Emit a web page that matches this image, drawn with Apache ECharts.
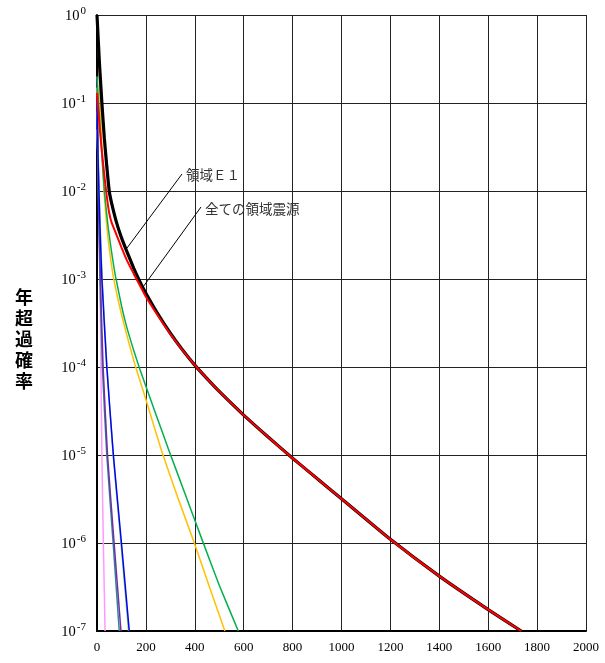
<!DOCTYPE html>
<html>
<head>
<meta charset="utf-8">
<script src="https://cdn.jsdelivr.net/npm/echarts@6/dist/echarts.min.js"></script>
<style>html,body{margin:0;padding:0;background:#fff}#c{width:605px;height:663px}</style>
</head>
<body>
<div id="c"></div>
<script>
// tick labels
const xTicks = [0,200,400,600,800,1000,1200,1400,1600,1800,2000];
const yExponents = [0,-1,-2,-3,-4,-5,-6,-7];

// series: x values and annual exceedance probabilities
const allSourcesX = [0, 10, 20, 30, 40, 50, 60, 80, 100, 121, 150, 175, 200, 250, 300, 350, 400, 450, 500, 600, 700, 800, 900, 1000, 1200, 1400, 1600, 1735];
const allSourcesY = [1, 0.282, 0.1, 0.0398, 0.0191, 0.01, 7.24e-3, 4.37e-3, 2.95e-3, 2.09e-3, 1.33e-3, 9.4e-4, 6.89e-4, 3.96e-4, 2.42e-4, 1.56e-4, 1.05e-4, 7.38e-5, 5.28e-5, 2.84e-5, 1.6e-5, 9.2e-6, 5.4e-6, 3.18e-6, 1.1e-6, 4.2e-7, 1.75e-7, 1e-7];
const regionE1X = [0, 10, 20, 30, 40, 50, 60, 80, 100, 121, 150, 175, 200, 250, 300, 350, 400, 450, 500, 600, 700, 800, 900, 1000, 1200, 1400, 1600, 1735];
const regionE1Y = [0.13, 0.0562, 0.0282, 0.0151, 8.7e-3, 5.62e-3, 4.37e-3, 3.16e-3, 2.29e-3, 1.66e-3, 1.15e-3, 8.5e-4, 6.3e-4, 3.8e-4, 2.37e-4, 1.55e-4, 1.05e-4, 7.38e-5, 5.28e-5, 2.84e-5, 1.6e-5, 9.2e-6, 5.4e-6, 3.18e-6, 1.1e-6, 4.2e-7, 1.75e-7, 1e-7];
const yellowX = [0, 5, 10, 15, 20, 25, 30, 40, 50, 67, 85, 100, 125, 155, 200, 264, 330, 398, 460, 523];
const yellowY = [1, 0.447, 0.178, 0.0708, 0.0316, 0.0158, 8.9e-3, 3.98e-3, 2.24e-3, 1.05e-3, 6.03e-4, 3.98e-4, 2.14e-4, 1.07e-4, 4.27e-5, 1.12e-5, 3.31e-6, 1e-6, 3.16e-7, 1e-7];
const greenX = [0, 10, 20, 30, 46, 60, 75, 100, 120, 150, 176, 200, 240, 292, 360, 432, 500, 578];
const greenY = [0.2, 0.0708, 0.0251, 0.01, 3.8e-3, 2.0e-3, 1.1e-3, 5.0e-4, 2.95e-4, 1.55e-4, 9.3e-5, 6.03e-5, 2.95e-5, 1.17e-5, 3.63e-6, 1.05e-6, 3.31e-7, 1e-7];
const lightGreenX = [0, 6, 13, 21, 41, 66, 98, 129];
const lightGreenY = [0.15, 0.02, 4e-3, 1e-3, 1e-4, 1e-5, 1e-6, 1e-7];
const blueX = [0, 5, 12, 20, 40, 67, 100, 132];
const blueY = [0.12, 0.02, 4e-3, 1e-3, 1e-4, 1e-5, 1e-6, 1e-7];
const tealX = [0, 5, 12, 22, 40, 66, 91];
const tealY = [0.08, 0.01, 1e-3, 1e-4, 1e-5, 1e-6, 1e-7];
const purpleX = [0, 6, 14, 25, 43, 70, 98];
const purpleY = [0.2, 0.01, 1e-3, 1e-4, 1e-5, 1e-6, 1e-7];
const pinkX = [0, 8, 12, 16, 20, 26, 33];
const pinkY = [0.05, 0.01, 1e-3, 1e-4, 1e-5, 1e-6, 1e-7];

const label1 = '領域Ｅ１';
const label2 = '全ての領域震源';
const yTitle = '年超過確率';

function pairs(xs, ys){ return xs.map((x,i)=>[x, ys[i]]); }
function line(data, color, width){
  return {type:'line', data:data, showSymbol:false, smooth:0.15, silent:true,
    lineStyle:{color:color, width:width}, z:2};
}

const chart = echarts.init(document.getElementById('c'), null, {renderer:'canvas'});
const serif = 'Liberation Serif';
chart.setOption({
  animation:false,
  backgroundColor:'#fff',
  grid:{left:97, right:19, top:15, bottom:32},
  xAxis:{type:'value', min:xTicks[0], max:xTicks[xTicks.length-1], interval:200,
    axisLine:{lineStyle:{color:'#000', width:2}}, axisTick:{show:false},
    splitLine:{lineStyle:{color:'#222', width:1}},
    axisLabel:{color:'#000', fontFamily:serif, fontSize:13, margin:10, formatter:function(v){return String(v);}}},
  yAxis:{type:'log', logBase:10, min:Math.pow(10, yExponents[yExponents.length-1]), max:Math.pow(10, yExponents[0]),
    axisLine:{lineStyle:{color:'#000', width:2}}, axisTick:{show:false},
    splitLine:{lineStyle:{color:'#222', width:1}},
    axisLabel:{margin:11, formatter:function(v){const e=Math.round(Math.log10(v)); return '{b|10}{s|'+e+'}';},
      rich:{b:{fontFamily:serif, fontSize:14.5, color:'#000', lineHeight:18, verticalAlign:'bottom'},
            s:{fontFamily:serif, fontSize:11, color:'#000', lineHeight:18, verticalAlign:'top', padding:[0,0,0,1]}}}},
  series:[
    line(pairs(pinkX,pinkY), '#FF99FF', 1.5),
    line(pairs(tealX,tealY), '#31869B', 1.5),
    line(pairs(purpleX,purpleY), '#7030A0', 1.5),
    line(pairs(lightGreenX,lightGreenY), '#92D050', 1.5),
    line(pairs(blueX,blueY), '#0000FF', 1.5),
    line(pairs(yellowX,yellowY), '#FFC000', 1.5),
    line(pairs(greenX,greenY), '#00B050', 1.5),
    line(pairs(allSourcesX,allSourcesY), '#000000', 3.2),
    line(pairs(regionE1X,regionE1Y), '#FF0000', 2)
  ],
  graphic:[
    {type:'line', shape:{x1:182,y1:174,x2:127,y2:248}, style:{stroke:'#000', lineWidth:1}, z:10},
    {type:'line', shape:{x1:201,y1:207,x2:143,y2:287}, style:{stroke:'#000', lineWidth:1}, z:10},
    {type:'text', left:186, top:168, style:{text:label1, font:'13.5px "Noto Sans CJK JP"', fill:'#333'}, z:10},
    {type:'text', left:205, top:202, style:{text:label2, font:'13.5px "Noto Sans CJK JP"', fill:'#333'}, z:10},
    {type:'text', left:15, top:287, style:{text:yTitle.split('').join('\n'), font:'bold 18px "Noto Sans CJK JP"', lineHeight:21, fill:'#000', align:'center'}, z:10}
  ]
});
</script>
</body>
</html>
